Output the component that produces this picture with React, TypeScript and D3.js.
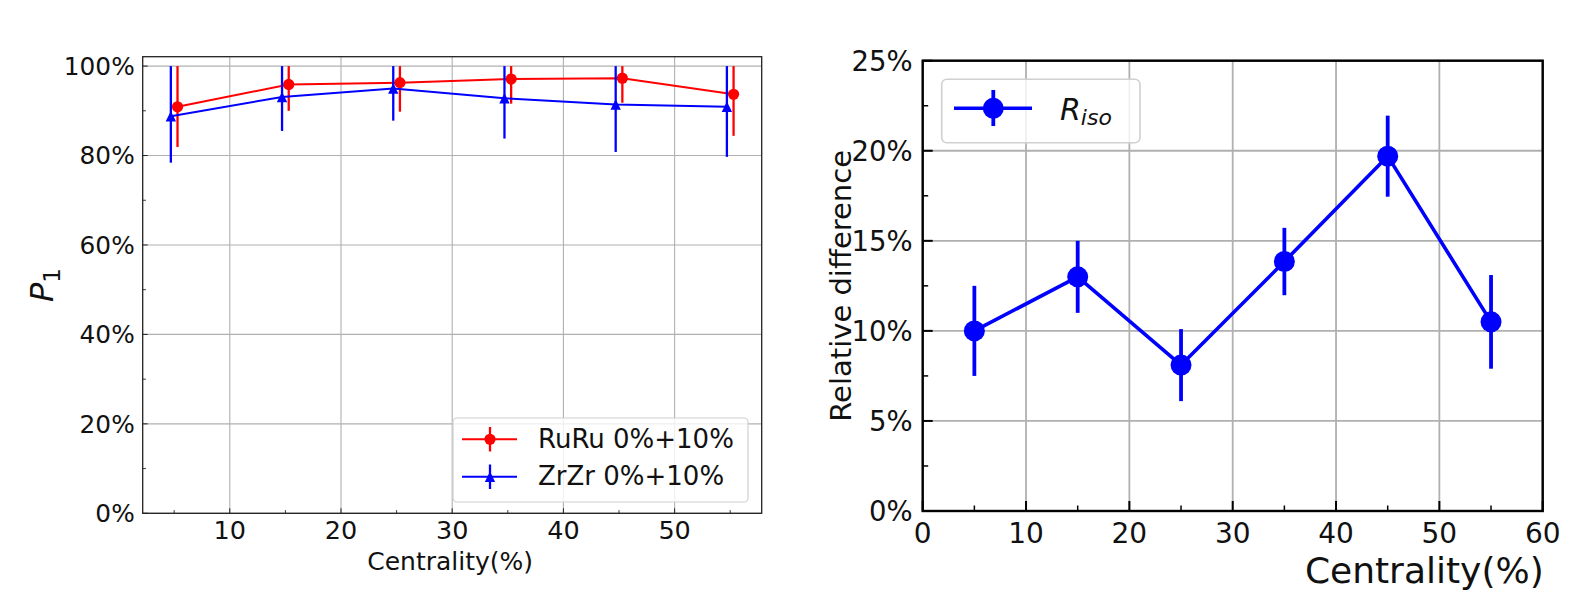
import React from 'react'
import * as d3 from 'd3'

// centrality bins, RuRu drawn a bit right, ZrZr a bit left (like the original)
const centrality = [5, 15, 25, 35, 45, 55]
const ruruX = [5.3, 15.3, 25.3, 35.3, 45.3, 55.3]
const zrzrX = [4.7, 14.7, 24.7, 34.7, 44.7, 54.7]

// P1 in %, with lower / upper ends of the error bars
const ruruP1 = [90.9, 95.9, 96.3, 97.1, 97.3, 93.7]
const ruruLow = [81.9, 90.0, 89.8, 91.6, 91.8, 84.4]
const ruruHigh = [100, 100, 100, 100, 100, 100]
const zrzrP1 = [88.8, 93.1, 95.0, 92.8, 91.4, 90.9]
const zrzrLow = [78.4, 85.5, 87.8, 83.8, 80.8, 79.7]
const zrzrHigh = [100, 100, 100, 100, 100, 100]

// relative difference R_iso in %, symmetric errors
const riso = [10.0, 13.0, 8.1, 13.85, 19.7, 10.5]
const risoErr = [2.5, 2.0, 2.0, 1.87, 2.25, 2.6]

const leftXTicks = [10, 20, 30, 40, 50]
const leftXMinor = [5, 15, 25, 35, 45, 55]
const leftYTicks = [0, 20, 40, 60, 80, 100]
const leftYMinor = [10, 30, 50, 70, 90]
const rightXTicks = [0, 10, 20, 30, 40, 50, 60]
const rightXMinor = [5, 15, 25, 35, 45, 55]
const rightYTicks = [0, 5, 10, 15, 20, 25]
const rightYMinor = [2.5, 7.5, 12.5, 17.5, 22.5]

const FONT = 'DejaVu Sans'
const GRID = '#b0b0b0'

function LeftPanel() {
  const x = d3.scaleLinear().domain([2.17, 57.83]).range([142.7, 761.7])
  const y = d3.scaleLinear().domain([0, 102.1]).range([513.3, 56.7])
  const [x0, x1] = x.range()
  const [y0, y1] = y.range()

  const line = d3
    .line<number>()
    .x((d, i) => x(ruruX[i]))
    .y(d => y(d))
  const lineZ = d3
    .line<number>()
    .x((d, i) => x(zrzrX[i]))
    .y(d => y(d))

  const tri = (cx: number, cy: number, s: number) =>
    `M${cx},${cy - s}L${cx - s},${cy + s}L${cx + s},${cy + s}Z`

  return (
    <g>
      {/* grid */}
      {leftXTicks.map(t => (
        <line key={'gx' + t} x1={x(t)} x2={x(t)} y1={y0} y2={y1} stroke={GRID} strokeWidth={1.1} />
      ))}
      {leftYTicks.map(t => (
        <line key={'gy' + t} x1={x0} x2={x1} y1={y(t)} y2={y(t)} stroke={GRID} strokeWidth={1.1} />
      ))}

      {/* RuRu */}
      <path d={line(ruruP1) || ''} fill="none" stroke="#ff0000" strokeWidth={2} />
      {ruruP1.map((v, i) => (
        <line key={'re' + i} x1={x(ruruX[i])} x2={x(ruruX[i])} y1={y(ruruLow[i])} y2={y(ruruHigh[i])}
          stroke="#ff0000" strokeWidth={2.3} />
      ))}
      {ruruP1.map((v, i) => (
        <circle key={'rm' + i} cx={x(ruruX[i])} cy={y(v)} r={5.6} fill="#ff0000" />
      ))}

      {/* ZrZr */}
      <path d={lineZ(zrzrP1) || ''} fill="none" stroke="#0000ff" strokeWidth={2} />
      {zrzrP1.map((v, i) => (
        <line key={'be' + i} x1={x(zrzrX[i])} x2={x(zrzrX[i])} y1={y(zrzrLow[i])} y2={y(zrzrHigh[i])}
          stroke="#0000ff" strokeWidth={2.3} />
      ))}
      {zrzrP1.map((v, i) => (
        <path key={'bm' + i} d={tri(x(zrzrX[i]), y(v), 5.2)} fill="#0000ff" />
      ))}

      {/* ticks, inward */}
      {leftXTicks.map(t => (
        <line key={'tx' + t} x1={x(t)} x2={x(t)} y1={y0} y2={y0 - 5} stroke="#222" strokeWidth={1} />
      ))}
      {leftXMinor.map(t => (
        <line key={'mx' + t} x1={x(t)} x2={x(t)} y1={y0} y2={y0 - 3.2} stroke="#222" strokeWidth={0.9} />
      ))}
      {leftYTicks.map(t => (
        <line key={'ty' + t} x1={x0} x2={x0 + 5} y1={y(t)} y2={y(t)} stroke="#222" strokeWidth={1} />
      ))}
      {leftYMinor.map(t => (
        <line key={'my' + t} x1={x0} x2={x0 + 3.2} y1={y(t)} y2={y(t)} stroke="#222" strokeWidth={0.9} />
      ))}

      {/* frame */}
      <rect x={x0} y={y1} width={x1 - x0} height={y0 - y1} fill="none" stroke="#222" strokeWidth={1.3} />

      {/* tick labels */}
      {leftYTicks.map(t => (
        <text key={'ly' + t} x={x0 - 8} y={y(t) + 8.8} textAnchor="end" fontSize={24.8} fontFamily={FONT} fill="#111">
          {t}%
        </text>
      ))}
      {leftXTicks.map(t => (
        <text key={'lx' + t} x={x(t)} y={539} textAnchor="middle" fontSize={25.5} fontFamily={FONT} fill="#111">
          {t}
        </text>
      ))}
      <text x={(x0 + x1) / 2 - 2} y={569.5} textAnchor="middle" fontSize={25} fontFamily={FONT} fill="#111">
        Centrality(%)
      </text>
      <text transform={`translate(53,${(y0 + y1) / 2}) rotate(-90)`} textAnchor="middle" fontFamily={FONT} fill="#111">
        <tspan fontSize={32} fontStyle="italic">P</tspan>
        <tspan fontSize={23} dy={7}>1</tspan>
      </text>

      {/* legend */}
      <rect x={453} y={418} width={295} height={84} rx={4} fill="#fff" fillOpacity={0.8} stroke="#d0d0d0" strokeWidth={1.2} />
      <line x1={462} x2={517} y1={439.3} y2={439.3} stroke="#ff0000" strokeWidth={2} />
      <line x1={490} x2={490} y1={427} y2={451.5} stroke="#ff0000" strokeWidth={2.3} />
      <circle cx={490} cy={439.3} r={5.6} fill="#ff0000" />
      <text x={538} y={447.8} fontSize={26} fontFamily={FONT} fill="#111">RuRu 0%+10%</text>
      <line x1={462} x2={517} y1={476.7} y2={476.7} stroke="#0000ff" strokeWidth={2} />
      <line x1={490} x2={490} y1={464.5} y2={489} stroke="#0000ff" strokeWidth={2.3} />
      <path d={tri(490, 476.7, 5.2)} fill="#0000ff" />
      <text x={538} y={485.2} fontSize={26} fontFamily={FONT} fill="#111">ZrZr 0%+10%</text>
    </g>
  )
}

function RightPanel() {
  const x = d3.scaleLinear().domain([0, 60]).range([922.7, 1542.7])
  const y = d3.scaleLinear().domain([0, 25]).range([511, 60.7])
  const [x0, x1] = x.range()
  const [y0, y1] = y.range()

  const line = d3
    .line<number>()
    .x((d, i) => x(centrality[i]))
    .y(d => y(d))

  return (
    <g>
      {rightXTicks.map(t => (
        <line key={'gx' + t} x1={x(t)} x2={x(t)} y1={y0} y2={y1} stroke={GRID} strokeWidth={1.8} />
      ))}
      {rightYTicks.map(t => (
        <line key={'gy' + t} x1={x0} x2={x1} y1={y(t)} y2={y(t)} stroke={GRID} strokeWidth={1.8} />
      ))}

      <path d={line(riso) || ''} fill="none" stroke="#0000ff" strokeWidth={3.6} strokeLinejoin="round" />
      {riso.map((v, i) => (
        <line key={'e' + i} x1={x(centrality[i])} x2={x(centrality[i])} y1={y(v - risoErr[i])} y2={y(v + risoErr[i])}
          stroke="#0000ff" strokeWidth={3.8} />
      ))}
      {riso.map((v, i) => (
        <circle key={'m' + i} cx={x(centrality[i])} cy={y(v)} r={10.5} fill="#0000ff" />
      ))}

      {rightXTicks.map(t => (
        <line key={'tx' + t} x1={x(t)} x2={x(t)} y1={y0} y2={y0 - 10} stroke="#000" strokeWidth={2} />
      ))}
      {rightXMinor.map(t => (
        <line key={'mx' + t} x1={x(t)} x2={x(t)} y1={y0} y2={y0 - 5.5} stroke="#000" strokeWidth={1.5} />
      ))}
      {rightYTicks.map(t => (
        <line key={'ty' + t} x1={x0} x2={x0 + 10} y1={y(t)} y2={y(t)} stroke="#000" strokeWidth={2} />
      ))}
      {rightYMinor.map(t => (
        <line key={'my' + t} x1={x0} x2={x0 + 5.5} y1={y(t)} y2={y(t)} stroke="#000" strokeWidth={1.5} />
      ))}

      <rect x={x0} y={y1} width={x1 - x0} height={y0 - y1} fill="none" stroke="#000" strokeWidth={2.4} />

      {rightYTicks.map(t => (
        <text key={'ly' + t} x={x0 - 10} y={y(t) + 10} textAnchor="end" fontSize={27.5} fontFamily={FONT} fill="#111">
          {t}%
        </text>
      ))}
      {rightXTicks.map(t => (
        <text key={'lx' + t} x={x(t)} y={543} textAnchor="middle" fontSize={28} fontFamily={FONT} fill="#111">
          {t}
        </text>
      ))}
      <text x={x1 + 1} y={583} textAnchor="end" fontSize={36} fontFamily={FONT} fill="#111">
        Centrality(%)
      </text>
      <text transform={`translate(851,${(y0 + y1) / 2}) rotate(-90)`} textAnchor="middle" fontSize={29}
        fontFamily={FONT} fill="#111">
        Relative difference
      </text>

      {/* legend */}
      <rect x={941.7} y={79.3} width={198.3} height={63.4} rx={5} fill="#fff" fillOpacity={0.8} stroke="#d0d0d0" strokeWidth={1.6} />
      <line x1={954} x2={1032} y1={108.3} y2={108.3} stroke="#0000ff" strokeWidth={3.6} />
      <line x1={993.3} x2={993.3} y1={90} y2={126} stroke="#0000ff" strokeWidth={3.8} />
      <circle cx={993.3} cy={108.3} r={10.5} fill="#0000ff" />
      <text x={1060} y={120} fontFamily={FONT} fill="#111" fontStyle="italic">
        <tspan fontSize={30}>R</tspan>
        <tspan fontSize={22} dy={5}>iso</tspan>
      </text>
    </g>
  )
}

export default function App() {
  return (
    <svg width={1583} height={592} style={{ position: 'absolute', left: 0, top: 0, background: '#fff' }}>
      <rect width={1583} height={592} fill="#fff" />
      <LeftPanel />
      <RightPanel />
    </svg>
  )
}
